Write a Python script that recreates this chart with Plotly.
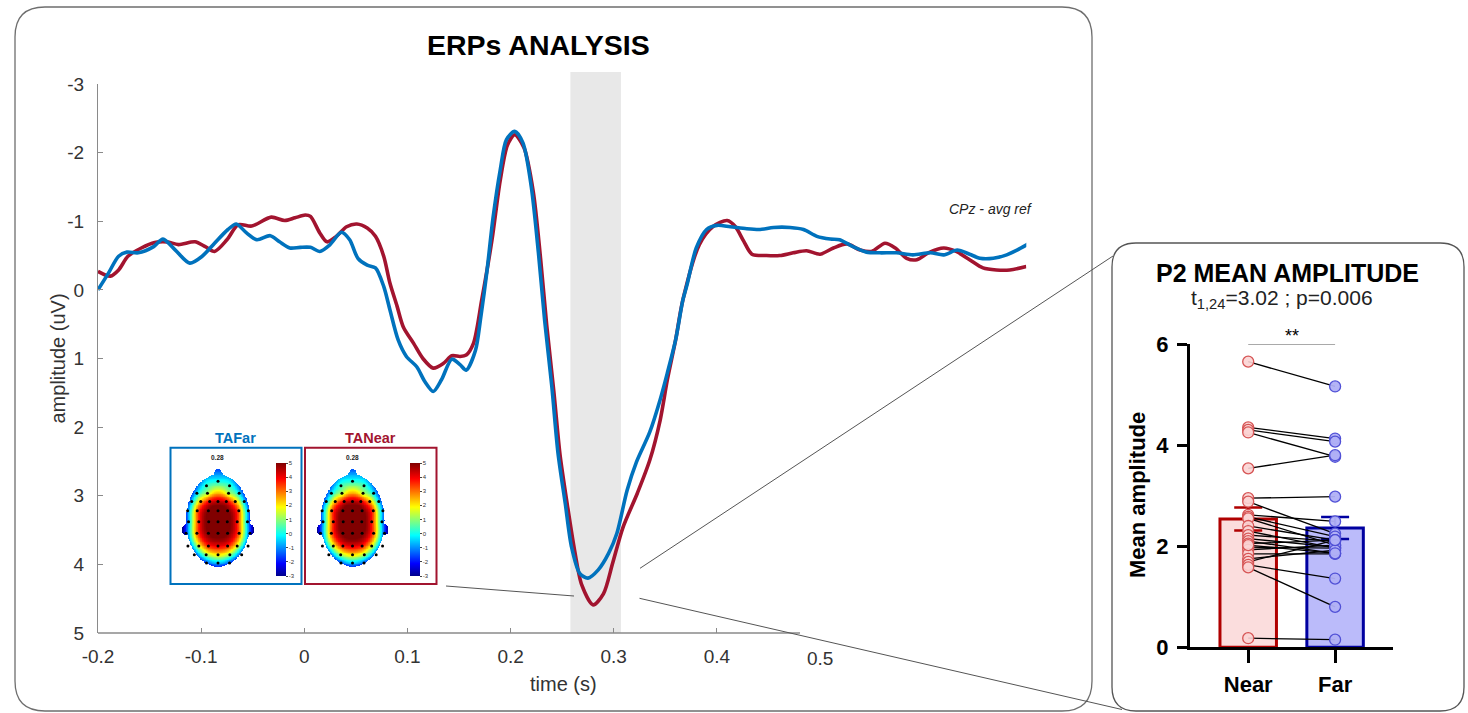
import numpy as np
import plotly.graph_objects as go

# ---------------------------------------------------------------- canvas
W, H = 1468, 713
FONT = "Liberation Sans, Arial, Helvetica, sans-serif"


def fx(x):
    """pixel column -> paper x"""
    return x / W


def fy(y):
    """pixel row -> paper y"""
    return 1 - y / H


# ---------------------------------------------------------------- ERP waveforms (CPz, average reference)
time_far = [-0.200, -0.190, -0.180, -0.172, -0.161, -0.146, -0.137, -0.125, -0.111, -0.099,
            -0.087, -0.074, -0.066, -0.056, -0.046, -0.033, -0.024, -0.014, -0.004, 0.006,
            0.015, 0.025, 0.036, 0.044, 0.052, 0.061, 0.069, 0.077, 0.083, 0.091,
            0.099, 0.109, 0.117, 0.125, 0.133, 0.143, 0.151, 0.157, 0.166, 0.171,
            0.177, 0.183, 0.190, 0.196, 0.204, 0.212, 0.220, 0.227, 0.233, 0.240,
            0.246, 0.253, 0.259, 0.267, 0.275, 0.285, 0.295, 0.303, 0.313, 0.322,
            0.335, 0.345, 0.352, 0.360, 0.367, 0.371, 0.380, 0.390, 0.400, 0.413,
            0.429, 0.442, 0.455, 0.471, 0.484, 0.497, 0.510, 0.519, 0.532, 0.545,
            0.558, 0.574, 0.590, 0.607, 0.620, 0.633, 0.645, 0.655, 0.668, 0.681,
            0.691, 0.702]
amp_far = [0.00, -0.24, -0.49, -0.55, -0.54, -0.63, -0.74, -0.58, -0.39, -0.49,
           -0.68, -0.88, -0.96, -0.83, -0.73, -0.79, -0.70, -0.61, -0.62, -0.62,
           -0.56, -0.66, -0.84, -0.73, -0.46, -0.36, -0.32, -0.05, 0.29, 0.73,
           0.97, 1.12, 1.34, 1.48, 1.31, 1.01, 1.09, 1.17, 0.88, 0.41,
           -0.26, -1.05, -1.75, -2.19, -2.31, -2.14, -1.51, -0.54, 0.44, 1.41,
           2.38, 3.11, 3.74, 4.13, 4.20, 4.08, 3.84, 3.55, 2.92, 2.51,
           2.07, 1.60, 1.21, 0.73, 0.15, -0.07, -0.61, -0.88, -0.94, -0.92,
           -0.89, -0.88, -0.91, -0.91, -0.88, -0.78, -0.74, -0.73, -0.63, -0.55,
           -0.54, -0.54, -0.51, -0.54, -0.51, -0.58, -0.52, -0.46, -0.46, -0.51,
           -0.58, -0.67]

time_near = [-0.200, -0.188, -0.180, -0.171, -0.158, -0.145, -0.133, -0.122, -0.106, -0.096,
             -0.087, -0.075, -0.064, -0.051, -0.032, -0.019, -0.009, 0.001, 0.006, 0.015,
             0.022, 0.031, 0.041, 0.051, 0.061, 0.069, 0.077, 0.083, 0.090, 0.096,
             0.106, 0.115, 0.125, 0.135, 0.143, 0.151, 0.157, 0.164, 0.172, 0.182,
             0.190, 0.197, 0.204, 0.213, 0.222, 0.229, 0.235, 0.242, 0.248, 0.255,
             0.262, 0.269, 0.280, 0.290, 0.299, 0.309, 0.323, 0.335, 0.345, 0.352,
             0.360, 0.367, 0.383, 0.396, 0.410, 0.418, 0.426, 0.434, 0.448, 0.461,
             0.474, 0.487, 0.500, 0.513, 0.526, 0.539, 0.550, 0.563, 0.573, 0.584,
             0.594, 0.605, 0.620, 0.632, 0.645, 0.658, 0.671, 0.684, 0.700]
amp_near = [-0.27, -0.20, -0.29, -0.49, -0.61, -0.69, -0.70, -0.66, -0.70, -0.63,
            -0.56, -0.73, -0.95, -0.93, -1.06, -1.01, -1.05, -1.09, -1.07, -0.83,
            -0.70, -0.78, -0.92, -0.96, -0.90, -0.78, -0.49, -0.10, 0.24, 0.54,
            0.78, 1.00, 1.14, 1.07, 0.96, 0.97, 0.95, 0.78, 0.15, -0.73,
            -1.60, -2.11, -2.26, -2.07, -1.43, -0.47, 0.51, 1.49, 2.41, 3.13,
            3.79, 4.30, 4.59, 4.43, 3.98, 3.46, 2.96, 2.48, 1.90, 1.31,
            0.73, 0.15, -0.66, -0.92, -1.01, -0.92, -0.71, -0.52, -0.50, -0.50,
            -0.54, -0.57, -0.52, -0.61, -0.67, -0.58, -0.56, -0.68, -0.61, -0.46,
            -0.44, -0.54, -0.61, -0.56, -0.44, -0.32, -0.29, -0.29, -0.34]

p2_window = [0.258, 0.307]          # s, shaded P2 interval
erp_xticks = [-0.2, -0.1, 0, 0.1, 0.2, 0.3, 0.4]
erp_xticklabels = ["-0.2", "-0.1", "0", "0.1", "0.2", "0.3", "0.4"]
erp_yticks = [-3, -2, -1, 0, 1, 2, 3, 4, 5]
erp_yticklabels = ["-3", "-2", "-1", "0", "1", "2", "3", "4", "5"]

# ---------------------------------------------------------------- P2 mean amplitude per subject
conditions = ["Near", "Far"]
p2_near = [5.65, 4.35, 4.30, 4.25, 3.54, 2.95, 2.88, 2.62, 2.58, 2.55, 2.40, 2.30, 2.22,
           2.15, 2.10, 2.05, 1.98, 1.93, 1.85, 1.75, 1.69, 1.63, 1.58, 2.02, 0.18]
p2_far = [5.16, 4.13, 4.07, 3.77, 3.80, 2.98, 2.25, 2.49, 2.19, 2.02, 2.12, 1.96, 2.10,
          1.98, 1.86, 2.12, 1.96, 2.02, 1.85, 1.92, 2.12, 1.36, 0.80, 1.86, 0.15]
bar_yticks = [0, 2, 4, 6]

# ---------------------------------------------------------------- scalp maps at 0.28 s
# electrode rows: normalised vertical position, horizontal positions, amplitudes (uV)
elec_rows_y = [0.86, 0.76, 0.60, 0.42, 0.22, -0.02, -0.27, -0.55, -0.74, -0.92]
elec_rows_x = [[0.0],
               [-0.36, 0.36],
               [-0.66, -0.33, 0.33, 0.66],
               [-0.82, -0.54, -0.26, 0.0, 0.26, 0.54, 0.82],
               [-0.95, -0.65, -0.30, 0.0, 0.30, 0.65, 0.95],
               [-0.92, -0.60, -0.29, 0.0, 0.29, 0.60, 0.92],
               [-1.00, -0.66, -0.30, 0.0, 0.30, 0.66, 1.00],
               [-0.94, -0.60, -0.30, 0.0, 0.30, 0.60, 0.94],
               [-0.74, -0.37, 0.0, 0.37, 0.74],
               [-0.36, 0.0, 0.36]]
elec_far = [[0.0],
            [0.3, 0.3],
            [-0.4, 1.2, 1.2, -0.4],
            [-0.6, 2.4, 4.0, 4.4, 4.0, 2.4, -0.6],
            [-1.2, 3.0, 5.0, 5.3, 5.0, 3.0, -1.2],
            [-0.8, 3.6, 5.2, 5.6, 5.2, 3.6, -0.8],
            [-1.8, 3.0, 5.0, 5.3, 5.0, 3.0, -1.8],
            [-2.2, 1.6, 3.6, 4.0, 3.6, 1.6, -2.2],
            [-2.0, 1.0, 2.0, 1.0, -2.0],
            [-1.6, -0.6, -1.6]]
elec_near = [[0.1],
             [0.4, 0.4],
             [-0.3, 1.3, 1.3, -0.3],
             [-0.5, 2.5, 4.1, 4.5, 4.1, 2.5, -0.5],
             [-1.1, 3.1, 5.1, 5.4, 5.1, 3.1, -1.1],
             [-0.7, 3.7, 5.3, 5.7, 5.3, 3.7, -0.7],
             [-1.7, 3.1, 5.1, 5.4, 5.1, 3.1, -1.7],
             [-2.1, 1.7, 3.7, 4.1, 3.7, 1.7, -2.1],
             [-1.9, 1.1, 2.1, 1.1, -1.9],
             [-1.5, -0.5, -1.5]]

RED = "#A2142F"
BLUE = "#0072BD"
AXIS_GREY = "#8a8a8a"
TEXT_GREY = "#333333"

JET = [[0.0, "rgb(0,0,140)"], [0.11, "rgb(0,0,255)"], [0.36, "rgb(0,255,255)"],
       [0.61, "rgb(255,255,0)"], [0.86, "rgb(255,0,0)"], [1.0, "rgb(128,0,0)"]]


def thin_plate(ex, ey, ev, gx, gy):
    """Thin-plate spline surface through electrode values."""
    ex, ey, ev = map(np.asarray, (ex, ey, ev))
    n = len(ex)
    d = np.hypot(ex[:, None] - ex[None, :], ey[:, None] - ey[None, :])
    K = np.where(d > 0, d ** 2 * np.log(d + 1e-12), 0.0)
    P = np.column_stack([np.ones(n), ex, ey])
    A = np.zeros((n + 3, n + 3))
    A[:n, :n] = K
    A[:n, n:] = P
    A[n:, :n] = P.T
    sol = np.linalg.solve(A, np.concatenate([ev, np.zeros(3)]))
    w, a = sol[:n], sol[n:]
    gd = np.hypot(gx[..., None] - ex, gy[..., None] - ey)
    G = np.where(gd > 0, gd ** 2 * np.log(gd + 1e-12), 0.0)
    return G @ w + a[0] + a[1] * gx + a[2] * gy


# flatten electrode layout
ex = [x for row in elec_rows_x for x in row]
ey = [y for y, row in zip(elec_rows_y, elec_rows_x) for _ in row]
ev_far = [v for row in elec_far for v in row]
ev_near = [v for row in elec_near for v in row]

# interpolation grid in head units (unit circle = scalp outline)
gx = np.linspace(-1.25, 1.25, 121)
gy = np.linspace(-1.2, 1.2, 141)
GX, GY = np.meshgrid(gx, gy)
scalp = GX ** 2 + GY ** 2 <= 1.0
nose = (GX / 0.13) ** 2 + ((GY - 1.0) / 0.13) ** 2 <= 1.0
ears = ((np.abs(GX) - 1.0) / 0.12) ** 2 + ((GY + 0.2) / 0.12) ** 2 <= 1.0
head_mask = scalp | nose | ears


def scalp_map(values):
    z = thin_plate(ex, ey, values, GX, GY)
    return np.where(head_mask, z, np.nan)


z_far = scalp_map(ev_far)
z_near = scalp_map(ev_near)

# ---------------------------------------------------------------- figure
fig = go.Figure()

# ERP traces
fig.add_trace(go.Scatter(x=time_near, y=amp_near, mode="lines", name="TANear",
                         line=dict(color=RED, width=3.6, shape="spline", smoothing=0.8),
                         xaxis="x", yaxis="y", hoverinfo="skip"))
fig.add_trace(go.Scatter(x=time_far, y=amp_far, mode="lines", name="TAFar",
                         line=dict(color=BLUE, width=3.6, shape="spline", smoothing=0.8),
                         xaxis="x", yaxis="y", hoverinfo="skip"))

# P2 bar chart: bars with SEM, paired subject lines, subject points
near_arr, far_arr = np.array(p2_near), np.array(p2_far)
means = [near_arr.mean(), far_arr.mean()]
sems = [near_arr.std(ddof=1) / np.sqrt(len(near_arr)), far_arr.std(ddof=1) / np.sqrt(len(far_arr))]
bar_fill = ["rgb(251,221,221)", "rgb(187,187,250)"]
bar_edge = ["rgb(176,0,0)", "rgb(0,0,160)"]
for i, cond in enumerate(conditions):
    fig.add_trace(go.Bar(x=[i], y=[means[i]], width=0.65, name=cond,
                         marker=dict(color=bar_fill[i], line=dict(color=bar_edge[i], width=3)),
                         error_y=dict(type="data", array=[sems[i]], color=bar_edge[i],
                                      thickness=2.5, width=14),
                         xaxis="x2", yaxis="y2", hoverinfo="skip"))

pair_x, pair_y = [], []
for a, b in zip(p2_near, p2_far):
    pair_x += [0, 1, None]
    pair_y += [a, b, None]
fig.add_trace(go.Scatter(x=pair_x, y=pair_y, mode="lines", line=dict(color="black", width=1.3),
                         xaxis="x2", yaxis="y2", hoverinfo="skip", cliponaxis=False))
fig.add_trace(go.Scatter(x=[0] * len(p2_near), y=p2_near, mode="markers",
                         marker=dict(size=11, color="rgba(251,212,212,0.9)",
                                     line=dict(color="rgb(214,84,84)", width=1.3)),
                         xaxis="x2", yaxis="y2", hoverinfo="skip", cliponaxis=False))
fig.add_trace(go.Scatter(x=[1] * len(p2_far), y=p2_far, mode="markers",
                         marker=dict(size=11, color="rgba(176,176,246,0.95)",
                                     line=dict(color="rgb(80,80,214)", width=1.3)),
                         xaxis="x2", yaxis="y2", hoverinfo="skip", cliponaxis=False))
# significance bracket
fig.add_trace(go.Scatter(x=[0, 1], y=[6.0, 6.0], mode="lines", line=dict(color="#555", width=1),
                         xaxis="x2", yaxis="y2", hoverinfo="skip", cliponaxis=False))

# scalp maps
cbar_ticks = list(range(-3, 6))
cbar_ticktext = [str(v) for v in cbar_ticks]
cbar_left = {"far": 276.0, "near": 410.5}
for key, z, xa, ya in (("far", z_far, "x3", "y3"), ("near", z_near, "x4", "y4")):
    fig.add_trace(go.Heatmap(x=gx, y=gy, z=z, colorscale=JET, zmin=-3, zmax=5, zsmooth=False,
                             hoverinfo="skip", xaxis=xa, yaxis=ya,
                             colorbar=dict(x=fx(cbar_left[key]), xanchor="left", xpad=0,
                                           y=fy(519.5), yanchor="middle", ypad=0,
                                           len=113 / H, lenmode="fraction", thickness=10,
                                           outlinewidth=0, tickvals=cbar_ticks,
                                           ticktext=cbar_ticktext,
                                           ticks="outside", ticklen=2, tickwidth=0.6,
                                           tickcolor="#444",
                                           tickfont=dict(size=6, color="#333", family=FONT))))
    fig.add_trace(go.Scatter(x=ex, y=ey, mode="markers", marker=dict(size=3, color="black"),
                             xaxis=xa, yaxis=ya, hoverinfo="skip"))

# ---------------------------------------------------------------- axes
hidden = dict(visible=False, showgrid=False, zeroline=False)
layout_axes = dict(
    xaxis=dict(domain=[fx(98), fx(1026.3)], range=[-0.2, 0.7], anchor="y",
               tickvals=erp_xticks, ticktext=erp_xticklabels, ticks="inside", ticklen=5,
               tickcolor=AXIS_GREY, tickwidth=1.2, showline=False, showgrid=False,
               zeroline=False, ticklabelstandoff=10,
               tickfont=dict(size=19, color=TEXT_GREY, family=FONT)),
    yaxis=dict(domain=[fy(633), fy(84)], range=[5, -3], anchor="x",
               tickvals=erp_yticks, ticktext=erp_yticklabels, ticks="inside", ticklen=5,
               tickcolor=AXIS_GREY, tickwidth=1.2, showline=True, linecolor=AXIS_GREY,
               linewidth=1.3, showgrid=False, zeroline=False, ticklabelstandoff=9,
               tickfont=dict(size=19, color=TEXT_GREY, family=FONT)),
    xaxis2=dict(domain=[fx(1190), fx(1393.3)], range=[-0.67, 1.67], anchor="y2",
                tickvals=[0, 1], ticktext=conditions, ticks="outside", ticklen=13,
                tickwidth=3, tickcolor="black", showline=True, linecolor="black",
                linewidth=3, showgrid=False, zeroline=False, ticklabelstandoff=2,
                tickfont=dict(size=22, color="black", family=FONT, weight="bold")),
    yaxis2=dict(domain=[fy(647.3), fy(344)], range=[0, 6], anchor="x2",
                tickvals=bar_yticks, ticks="outside", ticklen=10, tickwidth=3,
                tickcolor="black", showline=True, linecolor="black", linewidth=3,
                showgrid=False, zeroline=False, ticklabelstandoff=4,
                tickfont=dict(size=22, color="black", family=FONT, weight="bold")),
    xaxis3=dict(domain=[fx(178), fx(258)], range=[-1.25, 1.25], anchor="y3", **hidden),
    yaxis3=dict(domain=[fy(575.8), fy(465.8)], range=[-1.196, 1.196], anchor="x3", **hidden),
    xaxis4=dict(domain=[fx(312.5), fx(392.5)], range=[-1.25, 1.25], anchor="y4", **hidden),
    yaxis4=dict(domain=[fy(575.8), fy(465.8)], range=[-1.196, 1.196], anchor="x4", **hidden),
)


def rounded_box(x0, y0, x1, y1, r):
    """SVG path (paper units) of a rounded rectangle given in pixels."""
    X, Y = fx, fy
    return (f"M {X(x0 + r)},{Y(y0)} L {X(x1 - r)},{Y(y0)} Q {X(x1)},{Y(y0)} {X(x1)},{Y(y0 + r)} "
            f"L {X(x1)},{Y(y1 - r)} Q {X(x1)},{Y(y1)} {X(x1 - r)},{Y(y1)} "
            f"L {X(x0 + r)},{Y(y1)} Q {X(x0)},{Y(y1)} {X(x0)},{Y(y1 - r)} "
            f"L {X(x0)},{Y(y0 + r)} Q {X(x0)},{Y(y0)} {X(x0 + r)},{Y(y0)} Z")


shapes = [
    # shaded P2 window
    dict(type="rect", xref="x", yref="paper", x0=p2_window[0], x1=p2_window[1],
         y0=fy(633), y1=fy(72), fillcolor="#e8e8e8", line=dict(width=0), layer="below"),
    # time axis baseline
    dict(type="line", xref="x", yref="paper", x0=-0.2, x1=0.4806, y0=fy(633), y1=fy(633),
         line=dict(color=AXIS_GREY, width=1.3)),
    # panel frames
    dict(type="path", xref="paper", yref="paper", path=rounded_box(15, 7, 1092, 711, 30),
         line=dict(color="#6e6e6e", width=1.3)),
    dict(type="path", xref="paper", yref="paper", path=rounded_box(1112, 243, 1464, 711, 24),
         line=dict(color="#555555", width=1.3)),
    # scalp-map frames
    dict(type="rect", xref="paper", yref="paper", x0=fx(170.5), x1=fx(301.5), y0=fy(584),
         y1=fy(447.7), line=dict(color=BLUE, width=2)),
    dict(type="rect", xref="paper", yref="paper", x0=fx(305), x1=fx(436.5), y0=fy(584),
         y1=fy(447.7), line=dict(color=RED, width=2)),
    # zoom connectors
    dict(type="line", xref="paper", yref="paper", x0=fx(446), y0=fy(586), x1=fx(574), y1=fy(596),
         line=dict(color="#555", width=1)),
    dict(type="line", xref="paper", yref="paper", x0=fx(640), y0=fy(568.3), x1=fx(1113), y1=fy(256),
         line=dict(color="#555", width=1)),
    dict(type="line", xref="paper", yref="paper", x0=fx(639.5), y0=fy(598.3), x1=fx(1122), y1=fy(709.5),
         line=dict(color="#555", width=1)),
]


def txt(x, y, text, size, color="black", bold=False, italic=False, angle=0,
        xanchor="center", xref="paper", yref="paper"):
    return dict(x=x, y=y, xref=xref, yref=yref, text=text, showarrow=False,
                xanchor=xanchor, yanchor="middle", textangle=angle,
                font=dict(family=FONT, size=size, color=color,
                          weight="bold" if bold else "normal",
                          style="italic" if italic else "normal"))


annotations = [
    txt(fx(538.5), fy(45), "ERPs ANALYSIS", 28.5, bold=True),
    txt(fx(57), fy(358.5), "amplitude (uV)", 20, color=TEXT_GREY, angle=-90),
    txt(fx(563), fy(684), "time (s)", 20, color=TEXT_GREY),
    txt(0.5, fy(658), "0.5", 19, color=TEXT_GREY, xref="x"),
    txt(fx(1035), fy(209), "CPz - avg ref", 14, color="#222", italic=True, xanchor="right"),
    txt(fx(236), fy(437.5), "TAFar", 14.5, color=BLUE, bold=True),
    txt(fx(370.5), fy(437.5), "TANear", 14.5, color=RED, bold=True),
    txt(fx(217.5), fy(457.5), "0.28", 6.5, color="#222", bold=True),
    txt(fx(352), fy(457.5), "0.28", 6.5, color="#222", bold=True),
    txt(fx(1287), fy(273), "P2 MEAN AMPLITUDE", 25, bold=True),
    txt(fx(1282), fy(299), "t<sub>1,24</sub>=3.02 ; p=0.006", 21, color="#222"),
    txt(0.5, fy(336), "**", 18, xref="x2"),
    txt(fx(1138), fy(495), "Mean amplitude", 22, bold=True, angle=-90),
]

fig.update_layout(
    width=W, height=H, margin=dict(l=0, r=0, t=0, b=0, pad=0, autoexpand=False),
    paper_bgcolor="white", plot_bgcolor="white", showlegend=False,
    font=dict(family=FONT), shapes=shapes, annotations=annotations, **layout_axes,
)

fig.write_html("out.html", config={"displayModeBar": False})
